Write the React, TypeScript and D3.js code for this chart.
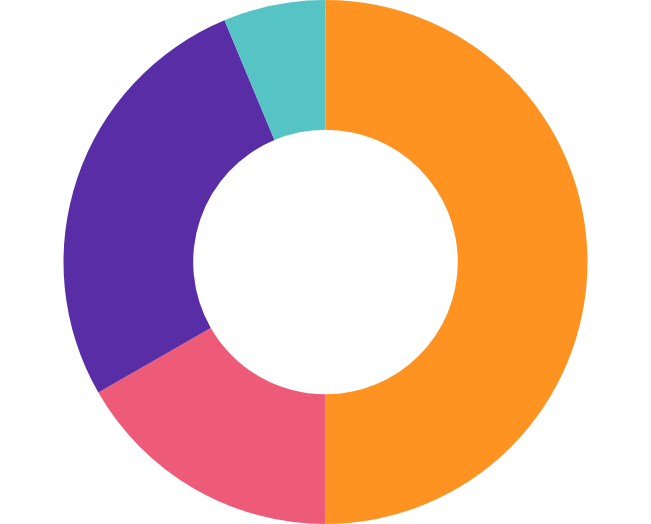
import React from 'react';
import * as d3 from 'd3';

const categories = ['A', 'B', 'C', 'D'];
const values = [50, 16.7, 27.0, 6.3];
const colors = ['#fe9322', '#ed5b78', '#582da5', '#56c3c5'];

const width = 651;
const height = 524;

const App: React.FC = () => {
  const outer = Math.min(width, height) / 2;
  const inner = outer * 0.505;

  const pie = d3.pie<number>().sort(null).value(d => d);
  const arcs = pie(values);
  const arc = d3.arc<d3.PieArcDatum<number>>().innerRadius(inner).outerRadius(outer);
  const color = d3.scaleOrdinal<string, string>().domain(categories).range(colors);

  return (
    <svg
      width={width}
      height={height}
      style={{ position: 'absolute', left: 0, top: 0, background: '#fff' }}
    >
      <g transform={`translate(${width / 2},${height / 2})`}>
        {arcs.map((a, i) => (
          <path key={categories[i]} d={arc(a) || ''} fill={color(categories[i])} />
        ))}
      </g>
    </svg>
  );
};

export default App;
